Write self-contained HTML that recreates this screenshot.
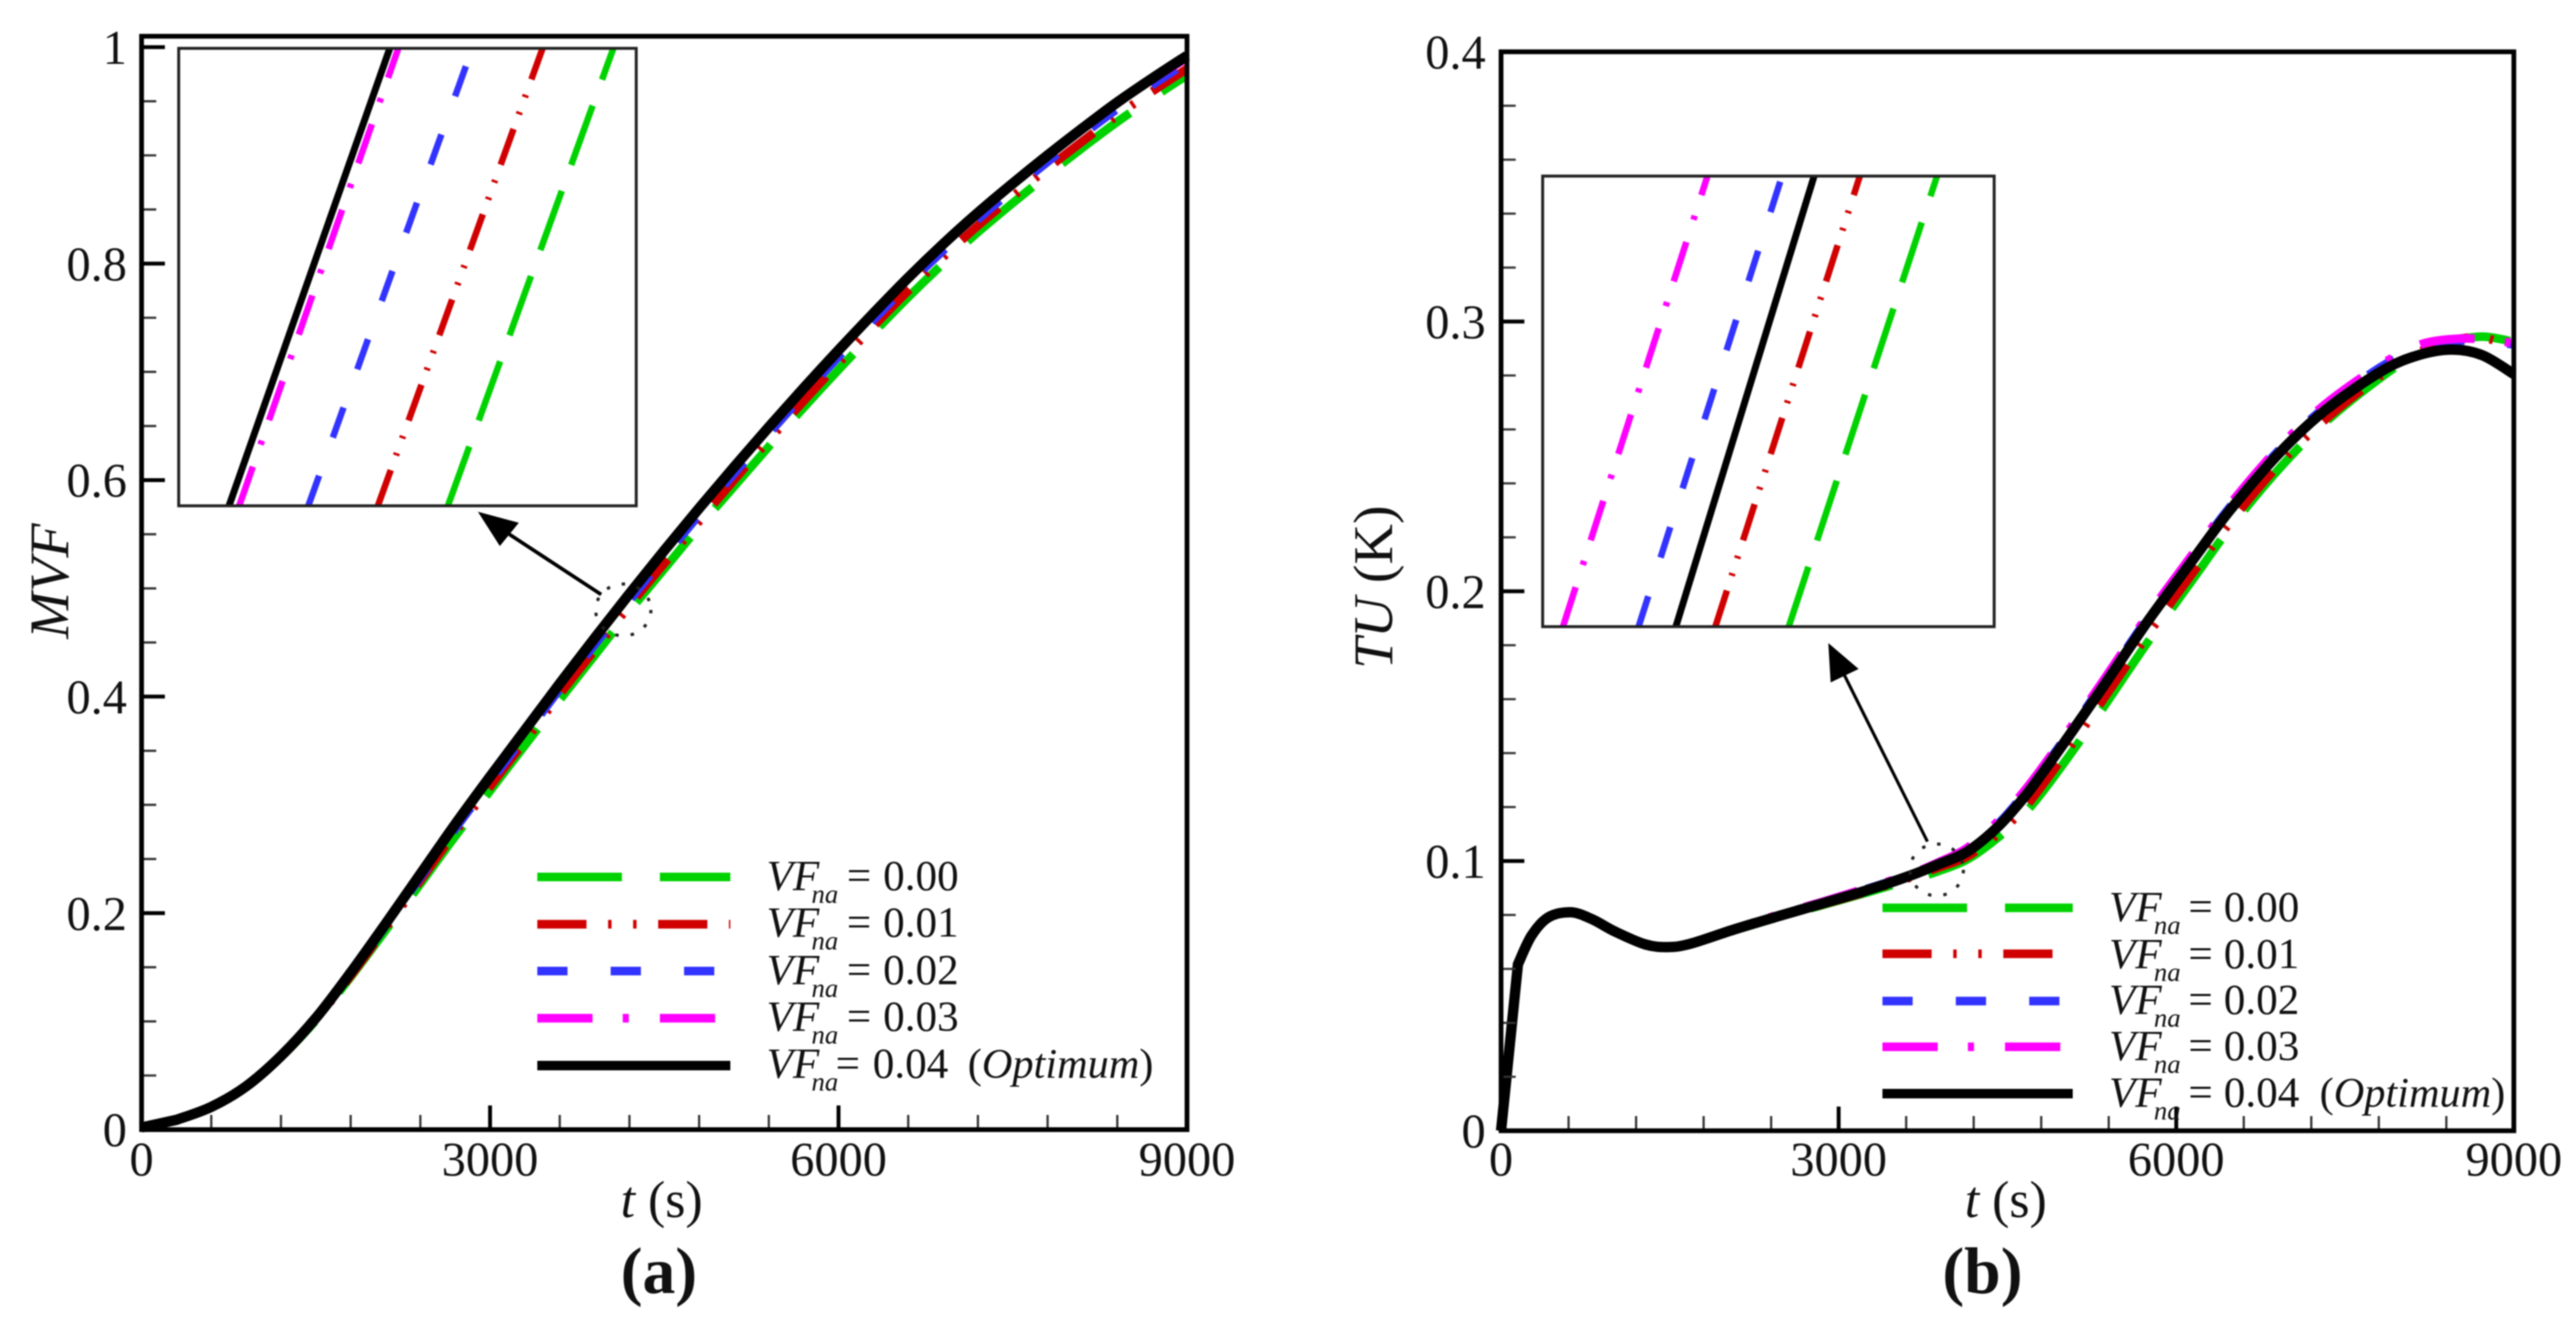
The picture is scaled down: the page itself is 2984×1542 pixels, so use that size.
<!DOCTYPE html>
<html>
<head>
<meta charset="utf-8">
<title>MVF and TU versus time</title>
<style>
html,body{margin:0;padding:0;background:#fff;}
svg{display:block;font-family:"Liberation Serif",serif;fill:#111;filter:blur(0.7px);}
</style>
</head>
<body>
<svg id="figure" xmlns="http://www.w3.org/2000/svg" width="2984" height="1542" viewBox="0 0 2984 1542"></svg>
<script>
// ----- Panel (a): MVF data -----
const tA = [0,300,600,900,1200,1500,1800,2100,2400,2700,3000,3300,3600,3900,4200,4500,4800,5100,5400,5700,6000,6300,6600,6900,7200,7500,7800,8100,8400,8700,9000];
const mvfBlack   = [0.002,0.009,0.021,0.040,0.068,0.103,0.145,0.190,0.236,0.282,0.326,0.369,0.412,0.454,0.495,0.535,0.574,0.612,0.649,0.685,0.720,0.754,0.787,0.818,0.847,0.874,0.900,0.925,0.949,0.971,0.992];
const mvfMagenta = [0.002,0.009,0.021,0.040,0.068,0.103,0.145,0.190,0.235,0.281,0.325,0.368,0.411,0.453,0.494,0.534,0.573,0.611,0.648,0.684,0.719,0.753,0.786,0.817,0.846,0.873,0.899,0.924,0.948,0.970,0.990];
const mvfBlue    = [0.002,0.009,0.021,0.040,0.068,0.102,0.144,0.188,0.233,0.278,0.321,0.364,0.407,0.448,0.489,0.529,0.568,0.606,0.643,0.679,0.714,0.748,0.781,0.812,0.841,0.868,0.894,0.919,0.943,0.965,0.986];
const mvfRed     = [0.002,0.009,0.021,0.040,0.067,0.102,0.142,0.186,0.230,0.275,0.317,0.359,0.402,0.443,0.484,0.523,0.562,0.600,0.637,0.673,0.708,0.742,0.775,0.806,0.835,0.862,0.888,0.913,0.937,0.959,0.980];
const mvfGreen   = [0.002,0.009,0.021,0.040,0.067,0.101,0.141,0.184,0.227,0.271,0.313,0.355,0.397,0.438,0.479,0.518,0.557,0.594,0.631,0.667,0.702,0.736,0.769,0.800,0.829,0.856,0.882,0.907,0.931,0.953,0.974];

// ----- Panel (b): TU data -----
const tB = [0,150,270,420,620,810,1010,1280,1480,1680,2070,2460,2850,3240,3630,3870,4140,4410,4640,4800,5040,5340,5740,6180,6480,6910,7320,7820,8150,8450,8720,9000];
const tuBlack   = [0,0.0617,0.0723,0.0791,0.0810,0.0784,0.0739,0.0691,0.0681,0.0693,0.0746,0.0795,0.0842,0.0890,0.0945,0.0985,0.1034,0.1125,0.1232,0.1320,0.1460,0.1640,0.1885,0.2135,0.2302,0.2510,0.2670,0.2815,0.2875,0.2896,0.2875,0.2805];
const tuMagenta = [0,0.0618,0.0724,0.0792,0.0811,0.0785,0.0741,0.0693,0.0683,0.0695,0.0749,0.0800,0.0848,0.0898,0.0950,0.0992,0.1048,0.1145,0.1255,0.1342,0.1482,0.1662,0.1907,0.2157,0.2324,0.2532,0.2692,0.2840,0.2912,0.2935,0.2935,0.2920];
const tuBlue    = [0,0.0617,0.0723,0.0791,0.0810,0.0784,0.0740,0.0692,0.0682,0.0694,0.0748,0.0798,0.0846,0.0895,0.0948,0.0989,0.1040,0.1135,0.1244,0.1332,0.1472,0.1652,0.1897,0.2147,0.2314,0.2522,0.2682,0.2832,0.2900,0.2925,0.2930,0.2915];
const tuRed     = [0,0.0616,0.0721,0.0790,0.0809,0.0783,0.0738,0.0690,0.0680,0.0692,0.0744,0.0793,0.0838,0.0885,0.0938,0.0973,0.1016,0.1098,0.1192,0.1275,0.1413,0.1592,0.1835,0.2087,0.2256,0.2468,0.2635,0.2800,0.2885,0.2930,0.2940,0.2905];
const tuGreen   = [0,0.0615,0.0720,0.0790,0.0808,0.0782,0.0738,0.0690,0.0680,0.0691,0.0743,0.0791,0.0836,0.0882,0.0930,0.0960,0.1005,0.1085,0.1172,0.1250,0.1385,0.1562,0.1807,0.2063,0.2236,0.2452,0.2625,0.2793,0.2880,0.2925,0.2944,0.2925];

// ----- Inset data: time at the inset's bottom and top edge per series -----
const insetAValues = [0.46,0.50];
const insetATimeGreen   = [4176.5,4285];
const insetATimeRed     = [4130.6,4238.6];
const insetATimeBlue    = [4085,4192.5];
const insetATimeMagenta = [4039.7,4144];
const insetATimeBlack   = [4033,4138.4];
const insetBValues = [0.09,0.11];
const insetBTimeGreen   = [3918,4049.4];
const insetBTimeRed     = [3853,3981];
const insetBTimeBlue    = [3785,3912];
const insetBTimeMagenta = [3718,3846];
const insetBTimeBlack   = [3818,3940.5];

// ----- Tick labels and legend text -----
const xTickValues = [0,3000,6000,9000];
const xTickLabels = ["0","3000","6000","9000"];
const yTickValuesA = [0,0.2,0.4,0.6,0.8,1];
const yTickLabelsA = ["0","0.2","0.4","0.6","0.8","1"];
const yTickValuesB = [0,0.1,0.2,0.3,0.4];
const yTickLabelsB = ["0","0.1","0.2","0.3","0.4"];
const legendValues = ["0.00","0.01","0.02","0.03","0.04"];

const seriesNames = ["vf-0-00","vf-0-01","vf-0-02","vf-0-03","vf-0-04"];
const seriesColors = ["#00d200","#d00000","#3333ff","#ff00ff","#000000"];
const mainDashes = ["98 44","57 25 4 25 4 25","35 50","64 35 7 36","none"];
const insetDashes = ["73 32","44 18 3 18 3 19","37 47","48 27 5 25","none"];

const SVGNS = "http://www.w3.org/2000/svg";
const root = document.getElementById("figure");

function mk(tag, attrs, parent, txt){
  const el = document.createElementNS(SVGNS, tag);
  for(const k in attrs) el.setAttribute(k, attrs[k]);
  if(txt !== undefined) el.textContent = txt;
  (parent || root).appendChild(el);
  return el;
}

function smoothPath(pts){
  let d = "M" + pts[0][0].toFixed(2) + " " + pts[0][1].toFixed(2);
  for(let i = 0; i < pts.length - 1; i++){
    const p1 = pts[i], p2 = pts[i+1], p3 = pts[Math.min(i+2,pts.length-1)];
    const p0 = i <= 1 ? p1 : pts[i-1];
    const c1 = i === 0 ? p1 : [p1[0]+(p2[0]-p0[0])/6, p1[1]+(p2[1]-p0[1])/6];
    const c2 = i === 0 ? p2 : [p2[0]-(p3[0]-p1[0])/6, p2[1]-(p3[1]-p1[1])/6];
    d += "C" + c1[0].toFixed(2) + " " + c1[1].toFixed(2) + " " + c2[0].toFixed(2) + " " + c2[1].toFixed(2) + " " + p2[0].toFixed(2) + " " + p2[1].toFixed(2);
  }
  return d;
}

function dashPhase(pts, times, anchorT, dash){
  if(anchorT === null || dash === "none") return 0;
  const period = dash.split(" ").reduce((a, b) => a + parseFloat(b), 0);
  let L = 0;
  for(let i = 1; i < pts.length; i++){
    const seg = Math.hypot(pts[i][0]-pts[i-1][0], pts[i][1]-pts[i-1][1]);
    if(times[i] >= anchorT){
      L += seg * (anchorT - times[i-1]) / (times[i] - times[i-1]);
      break;
    }
    L += seg;
  }
  return period - (L % period);
}

function drawPanel(c){
  const g = mk("g", {}, root);
  
  
  const X = t => c.x0 + (t / 9000) * (c.x1 - c.x0);
  const Y = v => c.y0 - (v / c.yMax) * (c.y0 - c.y1);

  // curves
  c.series.forEach((vals, i) => {
    const pts = vals.map((v, j) => [X(c.times[j]), Y(v)]);
    const line = mk("path", {d: smoothPath(pts), fill: "none", stroke: seriesColors[i], "stroke-width": i === 4 ? 12 : 10,
      "stroke-dasharray": mainDashes[i], "stroke-dashoffset": dashPhase(pts, c.times, c.dashAnchors[i], mainDashes[i]).toFixed(2), "stroke-linejoin": "round"}, g);
    
    
  });

  // minor ticks
  for(let t = 600; t < 9000; t += 600){
    if(t % 3000 === 0) continue;
    const mt = mk("line", {x1: X(t), x2: X(t), y1: c.y0, y2: c.y0 - 17, stroke: "#333", "stroke-width": 2.6}, g);
    
    
  }
  for(let k = 1; k * c.yMinor < c.yMaxTick - 1e-9; k++){
    const v = k * c.yMinor;
    if(Math.abs(v / c.yMajor - Math.round(v / c.yMajor)) < 1e-6) continue;
    const mt = mk("line", {x1: c.x0, x2: c.x0 + 17, y1: Y(v), y2: Y(v), stroke: "#333", "stroke-width": 2.6}, g);
    
    
  }
  // major ticks + labels
  xTickValues.forEach((t, i) => {
    if(t > 0 && t < 9000){
      const tick = mk("line", {x1: X(t), x2: X(t), y1: c.y0, y2: c.y0 - 28, stroke: "#000", "stroke-width": 4.5}, g);
      
      
    }
    const lab = mk("text", {x: X(t), y: 1362, "text-anchor": "middle", "font-size": 56}, g, xTickLabels[i]);
    
    
  });
  c.yTicks.forEach((v, i) => {
    if(v > 0 && v < c.yMaxTick + (c.id === 'a' ? 0.001 : -0.001)){
      const tick = mk("line", {x1: c.x0, x2: c.x0 + 27, y1: Y(v), y2: Y(v), stroke: "#000", "stroke-width": 4.5}, g);
      
      
    }
    const lab = mk("text", {x: c.yLabelX, y: Y(v) + 19.5, "text-anchor": "end", "font-size": 56}, g, c.yLabels[i]);
    
    
  });

  // frame
  const frame = mk("rect", {x: c.x0, y: c.frameTop, width: c.x1 - c.x0, height: c.y0 - c.frameTop, fill: "none", stroke: "#000", "stroke-width": 5.5}, g);
  
  

  // inset
  const b = c.inset;
  const insetG = mk("g", {}, g);
  
  
  const IX = t => b.x + (t - b.t0) / (b.t1 - b.t0) * b.w;
  const IY = v => b.y + b.h - (v - b.values[0]) / (b.values[1] - b.values[0]) * b.h;
  mk("rect", {x: b.x, y: b.y, width: b.w, height: b.h, fill: "#fff", stroke: "none"}, insetG);
  b.times.forEach((tt, i) => {
    const il = mk("line", {x1: IX(tt[0]), y1: IY(b.values[0]), x2: IX(tt[1]), y2: IY(b.values[1]),
      stroke: seriesColors[i], "stroke-width": i === 4 ? 8 : 7.5, "stroke-dasharray": insetDashes[i]}, insetG);
    
    
  });
  const ib = mk("rect", {x: b.x, y: b.y, width: b.w, height: b.h, fill: "none", stroke: "#222", "stroke-width": 3.4}, insetG);
  
  

  // marker circle + arrow
  const circ = mk("ellipse", {cx: c.circle[0], cy: c.circle[1], rx: c.circle[2], ry: c.circle[3], fill: "none", stroke: "#222", "stroke-width": 3.6, "stroke-dasharray": "4 14"}, g);
  
  
  const sh = mk("line", {x1: c.arrow.from[0], y1: c.arrow.from[1], x2: c.arrow.base[0], y2: c.arrow.base[1], stroke: "#000", "stroke-width": c.arrow.w}, g);
  
  
  const hd = mk("polygon", {points: c.arrow.head, fill: "#000"}, g);
  
  

  // legend
  const l = c.legend;
  legendValues.forEach((val, i) => {
    const row = mk("g", {}, g);
    
    
    mk("line", {x1: l.x0, x2: l.x1, y1: l.lineY[i], y2: l.lineY[i], stroke: seriesColors[i], "stroke-width": i === 4 ? 11 : 10, "stroke-dasharray": mainDashes[i]}, row);
    const base = l.textY[i];
    mk("text", {x: l.vf, y: base, "font-size": 50, "font-style": "italic"}, row, "VF");
    mk("text", {x: l.na, y: base + 15, "font-size": 31, "font-style": "italic"}, row, "na");
    const last = i === 4;
    mk("text", {x: last ? l.eqLast : l.eq, y: base, "font-size": 50}, row, "=");
    mk("text", {x: last ? l.numLast : l.num, y: base, "font-size": 50}, row, val);
    if(last) mk("text", {x: l.opt, y: base, "font-size": 49}, row).innerHTML = '(<tspan font-style="italic">Optimum</tspan>)';
  });

  // titles
  const xt = mk("text", {x: c.xTitleX, y: 1410, "font-size": 60}, g);
  xt.innerHTML = '<tspan font-style="italic">t</tspan> (s)';
  
  
  const yt = mk("text", {transform: "translate(" + c.yTitle[0] + " " + c.yTitle[1] + ") rotate(-90)", "font-size": 65}, g);
  yt.innerHTML = c.yTitleHtml;
  
  
  const cap = mk("text", {x: c.capX, y: 1498, "font-size": 76}, g);
  cap.innerHTML = c.capHtml;
  
  
}

drawPanel({
  id: "a", x0: 164, x1: 1375, y0: 1308.7, y1: 54.6, yMax: 1, yMaxTick: 1, yMajor: 0.2, yMinor: 0.05,
  frameTop: 42, times: tA, series: [mvfGreen, mvfRed, mvfBlue, mvfMagenta, mvfBlack],
  dashAnchors: [6353, 6317, 6285, null, null],
  yTicks: yTickValuesA, yLabels: yTickLabelsA, yLabelX: 147,
  inset: {x: 207, y: 56, w: 530, h: 530, t0: 4000, t1: 4300, values: insetAValues,
    times: [insetATimeGreen, insetATimeRed, insetATimeBlue, insetATimeMagenta, insetATimeBlack]},
  circle: [722, 706.6, 32, 30],
  arrow: {from: [696.4, 688.8], base: [590, 619], w: 4.2, head: "553.6,592.9 601,605.6 579,632.6"},
  legend: {x0: 622.4, x1: 846, lineY: [1016,1070.7,1125,1179.6,1234.5], textY: [1031,1085,1140,1194,1248.6],
    vf: 888, na: 940, eq: 981, num: 1023, eqLast: 968, numLast: 1011, opt: 1121},
  xTitleX: 719, yTitle: [79, 740], yTitleHtml: '<tspan font-style="italic">MVF</tspan>',
  capX: 719, capHtml: '<tspan font-weight="bold">(a)</tspan>'
});

drawPanel({
  id: "b", x0: 1738.8, x1: 2912, y0: 1310, y1: 60, yMax: 0.4, yMaxTick: 0.4, yMajor: 0.1, yMinor: 0.02,
  frameTop: 60, times: tB, series: [tuGreen, tuRed, tuBlue, tuMagenta, tuBlack],
  dashAnchors: [6614, 6581, 5945, 6516, null],
  yTicks: yTickValuesB, yLabels: yTickLabelsB, yLabelX: 1721,
  inset: {x: 1787, y: 204, w: 523, h: 522, t0: 3700, t1: 4100, values: insetBValues,
    times: [insetBTimeGreen, insetBTimeRed, insetBTimeBlue, insetBTimeMagenta, insetBTimeBlack]},
  circle: [2243.4, 1007.8, 31, 30],
  arrow: {from: [2232.7, 975], base: [2136.7, 782.6], w: 3.6, head: "2117.9,745 2153,775 2120.6,790.6"},
  legend: {x0: 2180.6, x1: 2401, lineY: [1051.8,1105,1159.7,1212.7,1267], textY: [1067,1121.5,1174.5,1228,1281.8],
    vf: 2443, na: 2495, eq: 2535, num: 2576, eqLast: 2535, numLast: 2576, opt: 2687},
  xTitleX: 2276, yTitle: [1612.6, 775], yTitleHtml: '<tspan font-style="italic">TU</tspan> (K)',
  capX: 2250, capHtml: '<tspan font-weight="bold">(b)</tspan>'
});
</script>
</body>
</html>
